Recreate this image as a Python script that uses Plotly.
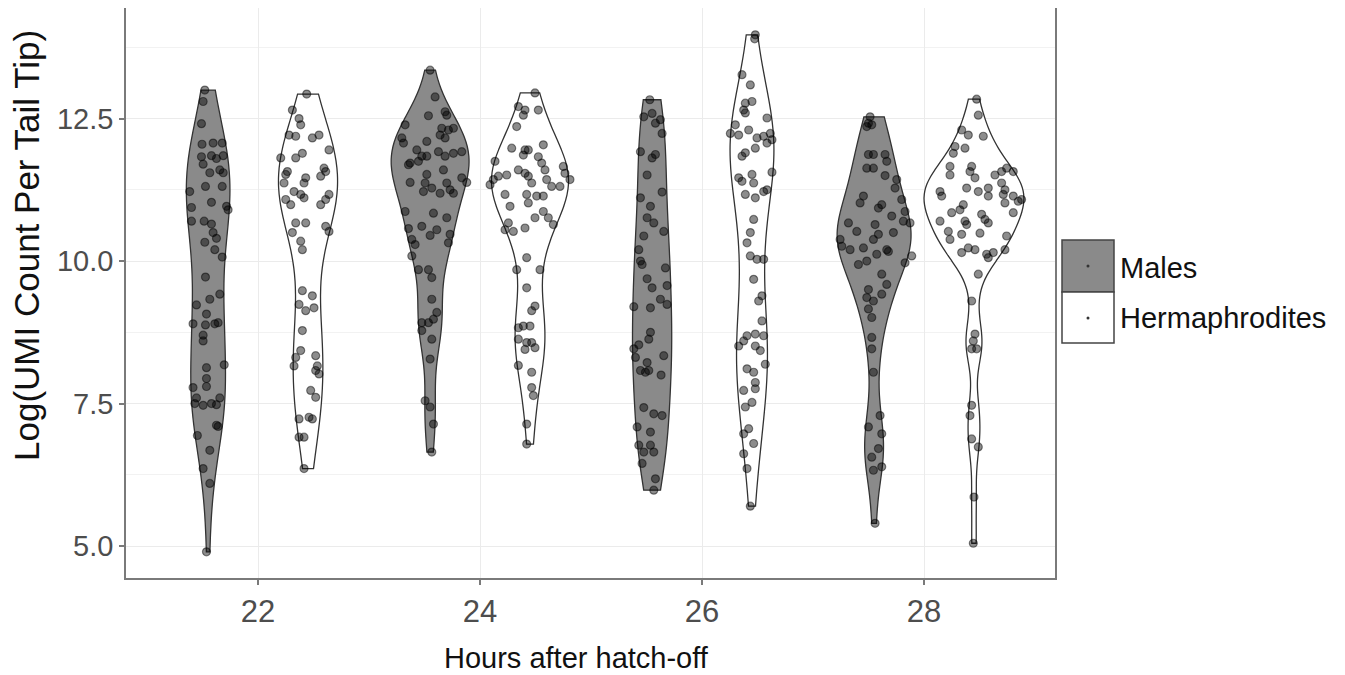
import numpy as np
import plotly.graph_objects as go

# ---------------- data ----------------
hours = [22, 24, 26, 28]
x_tick_vals = [22, 24, 26, 28]
y_tick_vals = [5.0, 7.5, 10.0, 12.5]
sexes = ["Males", "Hermaphrodites"]

# Males, 22 h
m22_y = [13.0, 12.8, 12.41, 12.05, 12.07, 12.07, 11.83, 11.85, 11.85, 11.8, 11.7, 11.55, 11.6, 11.55,
         11.31, 11.31, 11.22, 10.94, 10.96, 10.9, 11.03, 10.7, 10.7, 10.65, 10.5, 10.4, 10.33, 10.2,
         10.07, 9.72, 9.42, 9.33, 9.23, 9.07, 8.9, 8.88, 8.9, 8.92, 8.7, 8.6, 8.18, 8.13, 7.94, 7.8,
         7.78, 7.6, 7.5, 7.47, 7.5, 7.48, 7.6, 7.12, 7.1, 6.94, 6.68, 6.36, 6.1, 4.9]
m22_dx = [-0.03, -0.045, -0.06, -0.055, 0.045, 0.127, -0.06, 0.03, 0.136, 0.075, -0.045, 0.015, 0.105, 0.136,
          -0.024, 0.127, -0.166, -0.15, 0.166, 0.18, 0.03, -0.15, -0.036, 0.03, 0.045, 0.075, -0.03, 0.06,
          0.127, -0.024, 0.105, 0.015, -0.105, -0.015, -0.136, -0.024, 0.06, 0.09, -0.045, -0.045, 0.145, -0.015, -0.015, -0.015,
          -0.136, -0.105, -0.12, -0.045, 0.03, 0.075, 0.105, 0.075, 0.09, -0.097, 0.015, -0.045, 0.015, -0.015]

# Hermaphrodites, 22 h
h22_y = [12.93, 12.65, 12.5, 12.39, 12.21, 12.19, 12.16, 12.21, 11.95, 11.81, 11.81, 11.89, 11.57, 11.52,
         11.63, 11.57, 11.49, 11.37, 11.46, 11.37, 11.22, 11.17, 11.17, 11.08, 11.08, 10.99, 11.11, 10.99,
         10.67, 10.67, 10.61, 10.52, 10.5, 10.35, 10.2, 9.48, 9.39, 9.24, 9.13, 9.18, 8.78, 8.43, 8.31,
         8.16, 8.34, 8.16, 8.08, 8.02, 7.73, 7.61, 7.23, 7.26, 7.23, 6.91, 6.91, 6.36]
h22_dx = [-0.012, -0.141, -0.081, -0.066, -0.171, -0.111, 0.039, 0.099, 0.189, -0.246, -0.111, -0.051, -0.186, -0.201,
          0.144, 0.159, 0.114, -0.216, -0.021, -0.036, -0.126, -0.066, 0.189, 0.159, -0.201, -0.156, -0.036, 0.114,
          -0.111, -0.021, 0.159, 0.189, -0.141, -0.066, -0.051, -0.051, 0.039, -0.081, -0.021, 0.054, -0.051, -0.066, -0.111,
          -0.126, 0.069, 0.084, 0.069, 0.099, 0.024, 0.069, -0.081, 0.009, 0.039, -0.081, -0.036, -0.036]

# Males, 24 h
m24_y = [13.35, 12.88, 12.55, 12.62, 12.56, 12.39, 12.33, 12.30, 12.33, 12.21, 12.16, 12.16, 12.07, 12.1,
         11.95, 11.92, 11.84, 11.89, 11.92, 11.84, 11.75, 11.84, 11.69, 11.72, 11.52, 11.6, 11.38, 11.37,
         11.22, 11.28, 11.19, 11.37, 11.25, 11.19, 11.46, 11.38, 10.87, 10.84, 10.76, 10.61, 10.55, 10.45,
         10.57, 10.38, 10.29, 10.47, 10.32, 10.09, 9.85, 9.85, 9.71, 9.33, 9.1, 8.98, 8.92, 8.78, 8.92,
         8.63, 8.28, 7.55, 7.44, 7.14, 6.65]
m24_dx = [0.0, 0.045, -0.015, 0.135, 0.15, -0.225, 0.105, 0.165, 0.21, 0.09, 0.135, -0.255, -0.24, -0.03,
          -0.12, 0.075, 0.135, 0.21, 0.285, -0.075, -0.105, -0.03, -0.195, -0.18, -0.03, 0.12, -0.18, -0.045,
          -0.06, 0.015, 0.09, 0.15, 0.18, 0.21, 0.285, 0.33, -0.225, 0.03, 0.15, -0.075, 0.06, 0.0,
          -0.195, -0.165, -0.135, 0.18, 0.165, -0.165, -0.105, -0.015, 0.015, 0.015, 0.06, 0.03, -0.075, -0.075, -0.015,
          0.015, 0.0, -0.045, 0.0, 0.03, 0.015]

# Hermaphrodites, 24 h
h24_y = [12.95, 12.71, 12.65, 12.56, 12.65, 12.36, 11.98, 11.95, 11.86, 11.95, 12.04, 11.83, 11.72, 11.6,
         11.75, 11.66, 11.54, 11.6, 11.54, 11.49, 11.43, 11.49, 11.51, 11.34, 11.43, 11.31, 11.31, 11.43,
         11.37, 11.17, 10.96, 11.17, 11.02, 11.14, 11.14, 10.76, 10.87, 10.76, 10.64, 10.67, 10.55, 10.52,
         10.58, 10.06, 9.85, 9.85, 9.53, 9.21, 9.13, 8.83, 8.86, 8.86, 8.63, 8.57, 8.57, 8.45, 8.48,
         8.17, 8.05, 7.78, 7.64, 7.14, 6.79]
h24_dx = [0.045, -0.105, -0.045, -0.06, 0.075, -0.12, -0.165, -0.045, -0.06, -0.015, 0.12, 0.075, 0.105, 0.135,
          -0.315, 0.3, 0.315, -0.105, -0.045, -0.015, -0.33, -0.285, -0.21, -0.36, 0.15, 0.195, 0.27, 0.36,
          0.015, -0.225, -0.18, -0.03, -0.015, 0.06, 0.12, 0.045, 0.12, 0.165, 0.21, -0.195, -0.225, -0.15,
          -0.045, -0.03, -0.12, 0.09, -0.03, 0.045, 0.015, -0.105, -0.06, 0.0, -0.105, -0.03, 0.015, -0.045, 0.045,
          -0.105, 0.015, 0.015, 0.03, -0.03, -0.03]

# Males, 26 h
m26_y = [12.83, 12.53, 12.59, 12.48, 12.24, 12.42, 11.92, 11.87, 11.81, 11.51, 11.21, 11.11, 10.96, 10.76,
         10.67, 10.52, 10.44, 10.2, 10.0, 9.94, 9.88, 9.69, 9.53, 9.57, 9.33, 9.24, 9.2, 9.18, 8.75, 8.63,
         8.46, 8.31, 8.53, 8.22, 8.08, 8.05, 8.08, 8.34, 8.0, 7.43, 7.32, 7.29, 7.09, 7.0, 6.77, 6.77,
         6.65, 6.65, 6.45, 6.18, 5.98]
m26_dx = [-0.021, -0.075, 0.0, 0.075, 0.09, 0.03, -0.105, 0.03, 0.0, -0.045, 0.09, -0.105, -0.015, -0.045,
          0.015, 0.105, -0.075, -0.12, -0.105, -0.09, 0.12, -0.045, 0.0, 0.135, 0.075, 0.135, -0.165, -0.015, -0.015, -0.03,
          -0.165, -0.15, -0.12, -0.045, -0.105, -0.06, -0.03, 0.105, 0.081, -0.075, 0.015, 0.09, -0.135, -0.015, -0.12, -0.015,
          -0.075, 0.015, -0.09, 0.03, 0.015]

# Hermaphrodites, 26 h
h26_y = [13.97, 13.9, 13.27, 13.09, 12.77, 12.8, 12.65, 12.6, 12.51, 12.39, 12.24, 12.21, 12.3, 12.16,
         12.19, 12.24, 12.13, 12.07, 11.98, 11.84, 11.9, 11.56, 11.46, 11.4, 11.52, 11.37, 11.25, 11.22,
         11.17, 11.11, 10.73, 10.5, 10.32, 10.09, 10.03, 10.03, 9.68, 9.3, 9.39, 8.95, 8.69, 8.72, 8.69,
         8.51, 8.6, 8.51, 8.43, 8.19, 8.11, 8.05, 7.87, 7.76, 7.73, 7.44, 7.52, 7.06, 6.97, 6.8, 6.62,
         6.36, 5.7]
h26_dx = [0.03, 0.024, -0.09, -0.015, -0.06, 0.0, -0.075, -0.06, 0.135, -0.15, -0.195, -0.12, -0.03, 0.045,
          0.105, 0.165, 0.18, 0.135, 0.03, -0.09, -0.06, 0.18, -0.12, -0.09, 0.0, 0.015, 0.135, 0.105,
          -0.06, 0.03, 0.015, -0.015, -0.045, -0.015, 0.045, 0.105, 0.015, 0.06, 0.09, 0.09, -0.045, 0.03, 0.105,
          -0.12, -0.075, 0.03, 0.075, 0.12, -0.045, 0.015, 0.03, 0.03, -0.075, -0.06, 0.0, -0.03, -0.075, 0.015, -0.075,
          -0.045, -0.015]

# Males, 28 h
m28_y = [12.53, 12.42, 12.39, 12.36, 11.87, 11.87, 11.87, 11.75, 11.63, 11.63, 11.5, 11.43, 11.28, 11.08,
         10.87, 11.14, 11.02, 10.93, 10.99, 10.79, 10.5, 10.2, 10.17, 10.67, 10.52, 10.64, 10.47, 10.38,
         10.38, 10.26, 10.2, 10.23, 9.94, 10.0, 10.12, 10.7, 10.67, 9.97, 10.09, 9.77, 9.59, 9.42, 9.5,
         9.36, 9.3, 9.16, 9.01, 8.66, 8.46, 8.05, 7.29, 7.09, 6.97, 6.71, 6.56, 6.39, 6.33, 5.4]
m28_dx = [-0.036, -0.051, -0.021, -0.066, -0.051, -0.006, 0.099, 0.114, -0.066, -0.006, 0.099, 0.204, 0.189, 0.249,
          0.279, -0.096, -0.126, 0.039, 0.069, 0.159, 0.174, 0.114, 0.129, -0.231, -0.156, 0.009, 0.039, -0.006,
          -0.306, -0.291, -0.216, -0.096, -0.141, -0.066, 0.024, 0.264, 0.324, 0.279, 0.339, 0.069, 0.114, 0.069, -0.051,
          -0.066, -0.006, -0.051, -0.021, -0.021, -0.021, -0.006, 0.054, -0.051, 0.069, 0.039, -0.021, 0.069, -0.006, 0.009]

# Hermaphrodites, 28 h
h28_y = [12.84, 12.56, 12.3, 12.21, 12.19, 12.01, 11.89, 11.98, 11.66, 11.51, 11.66, 11.57, 11.46, 11.51,
         11.57, 11.63, 11.57, 11.37, 11.25, 11.17, 11.22, 11.14, 11.28, 11.22, 11.28, 11.14, 11.14, 11.05,
         11.08, 11.02, 10.85, 10.99, 10.9, 10.85, 10.82, 10.73, 10.67, 10.7, 10.52, 10.38, 10.7, 10.64,
         10.49, 10.47, 10.44, 10.23, 10.2, 10.15, 10.12, 10.15, 10.06, 10.2, 9.77, 9.3, 8.72, 8.6, 8.46,
         8.46, 7.47, 7.29, 6.88, 6.74, 5.86, 5.05]
h28_dx = [0.024, 0.039, -0.111, -0.051, 0.084, -0.171, -0.186, -0.081, -0.216, -0.216, -0.021, -0.036, 0.009, 0.189,
          0.249, 0.294, 0.354, 0.249, 0.279, 0.264, -0.306, -0.291, -0.066, 0.039, 0.129, 0.129, 0.354, 0.399,
          0.429, 0.279, 0.354, -0.096, -0.126, -0.201, 0.069, 0.099, 0.129, -0.306, -0.231, -0.216, -0.081, -0.066,
          0.054, -0.111, 0.294, -0.051, 0.009, -0.111, 0.114, 0.174, 0.129, 0.279, 0.039, -0.021, 0.009, -0.006, -0.021,
          0.024, -0.021, -0.036, -0.021, 0.039, 0.0, -0.006]

male_y = [m22_y, m24_y, m26_y, m28_y]
male_dx = [m22_dx, m24_dx, m26_dx, m28_dx]
herm_y = [h22_y, h24_y, h26_y, h28_y]
herm_dx = [h22_dx, h24_dx, h26_dx, h28_dx]

# ---------------- styling ----------------
FONT = "Liberation Sans, Arial, Helvetica, sans-serif"
MALE_FILL = "#8a8a8a"
HERM_FILL = "#ffffff"
OUTLINE = "#333333"
DODGE = 0.45          # ggplot position_dodge(width = 0.9)
MAX_W = 0.9


def bw_nrd0(v):
    v = np.asarray(v, float)
    sd = v.std(ddof=1)
    iqr = np.subtract(*np.percentile(v, [75, 25]))
    lo = min(sd, iqr / 1.34) if iqr > 0 else sd
    return 0.9 * lo * len(v) ** (-0.2)


def peak_density(v, bw):
    v = np.asarray(v, float)
    grid = np.linspace(v.min(), v.max(), 512)
    d = np.exp(-0.5 * ((grid[:, None] - v[None, :]) / bw) ** 2).sum(1) / (len(v) * bw * np.sqrt(2 * np.pi))
    return d.max()


groups = []
for i, h in enumerate(hours):
    groups.append(("Males", h - DODGE, male_y[i], male_dx[i], MALE_FILL))
    groups.append(("Hermaphrodites", h + DODGE, herm_y[i], herm_dx[i], HERM_FILL))

bws = [bw_nrd0(g[2]) for g in groups]
peaks = [peak_density(g[2], b) for g, b in zip(groups, bws)]
pmax = max(peaks)

fig = go.Figure()
for (name, pos, ys, dxs, fill), bw, pk in zip(groups, bws, peaks):
    fig.add_trace(go.Violin(
        x=[pos] * len(ys), y=ys, name=name, legendgroup=name,
        bandwidth=bw, spanmode="hard", scalemode="width",
        width=MAX_W * pk / pmax, points=False,
        fillcolor=fill, opacity=1,
        line=dict(color=OUTLINE, width=1.3),
        box_visible=False, meanline_visible=False,
        showlegend=False, hoverinfo="y",
    ))

for (name, pos, ys, dxs, fill) in groups:
    fig.add_trace(go.Scatter(
        x=[pos + d for d in dxs], y=ys, mode="markers", name=name,
        marker=dict(size=8, color="rgba(0,0,0,0.45)",
                    line=dict(color="rgba(0,0,0,0.45)", width=1.2)),
        showlegend=False, hoverinfo="x+y",
    ))

# The page body has an 8 px margin, so figure pixel = page pixel - 8.
OFF = 8
W, H = 1345 - OFF, 675 - OFF
L, R, T, B = 126 - OFF, 1055 - OFF, 0, 578 - OFF
PW, PH = R - L, B - T


def px(xp):
    return (xp - OFF - L) / PW


def py(yp):
    return (B - (yp - OFF)) / PH


shapes = []
# legend keys
shapes.append(dict(type="rect", xref="paper", yref="paper", x0=px(1062), x1=px(1114), y0=py(292), y1=py(240),
                   fillcolor=MALE_FILL, line=dict(color="#444444", width=1.5)))
shapes.append(dict(type="rect", xref="paper", yref="paper", x0=px(1062), x1=px(1114), y0=py(343), y1=py(292),
                   fillcolor=HERM_FILL, line=dict(color="#444444", width=1.5)))
for cy in (266, 318):
    shapes.append(dict(type="circle", xref="paper", yref="paper", x0=px(1086.5), x1=px(1089.5),
                       y0=py(cy + 1.5), y1=py(cy - 1.5), fillcolor="#333333", line=dict(width=0)))

annotations = [
    dict(text="Hours after hatch-off", xref="paper", yref="paper", x=px(576), y=py(658),
         xanchor="center", yanchor="middle", showarrow=False, font=dict(size=29, color="#111111", family=FONT)),
    dict(text="Log(UMI Count Per Tail Tip)", xref="paper", yref="paper", x=px(27), y=py(246),
         xanchor="center", yanchor="middle", textangle=-90, showarrow=False,
         font=dict(size=35, color="#111111", family=FONT)),
    dict(text=sexes[0], xref="paper", yref="paper", x=px(1118), y=py(268), xanchor="left", yanchor="middle",
         showarrow=False, font=dict(size=29, color="#111111", family=FONT)),
    dict(text=sexes[1], xref="paper", yref="paper", x=px(1118), y=py(318), xanchor="left", yanchor="middle",
         showarrow=False, font=dict(size=29, color="#111111", family=FONT)),
]

fig.update_layout(
    width=W, height=H,
    margin=dict(l=L, r=W - R, t=T, b=H - B, autoexpand=False),
    paper_bgcolor="white", plot_bgcolor="white",
    violinmode="overlay", showlegend=False,
    font=dict(family=FONT),
    shapes=shapes, annotations=annotations,
    xaxis=dict(range=[20.81, 29.18], tickvals=x_tick_vals, showgrid=True, gridcolor="#ebebeb", gridwidth=1.3,
               zeroline=False, ticks="outside", ticklen=5, tickwidth=1.5, tickcolor="#7a7a7a",
               tickfont=dict(size=31, color="#4d4d4d", family=FONT),
               showline=True, linecolor="#7a7a7a", linewidth=1.5, mirror=True),
    yaxis=dict(range=[4.44, 14.44], tickvals=y_tick_vals, tickformat=".1f", showgrid=True, gridcolor="#ebebeb",
               gridwidth=1.3, zeroline=False, ticks="outside", ticklen=5, tickwidth=1.5, tickcolor="#7a7a7a",
               tickfont=dict(size=29, color="#4d4d4d", family=FONT),
               minor=dict(tick0=5, dtick=1.25, showgrid=True, gridcolor="#f2f2f2", gridwidth=1.1),
               showline=True, linecolor="#7a7a7a", linewidth=1.5, mirror=True),
)

fig.write_html("out.html")
